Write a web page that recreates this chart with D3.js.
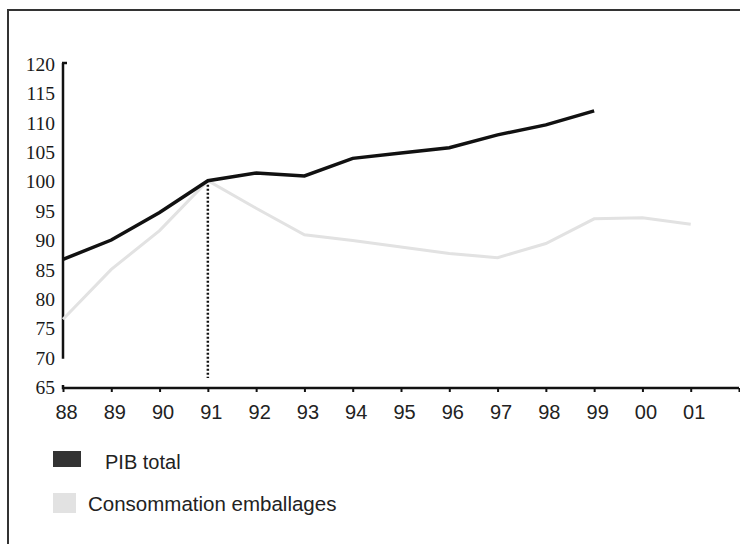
<!DOCTYPE html>
<html>
<head>
<meta charset="utf-8">
<script src="https://cdn.jsdelivr.net/npm/d3@7"></script>
<style>
  body { margin: 0; background: #fff; }
  svg { display: block; }
</style>
</head>
<body>
<div id="chart"></div>
<script>
// Data
const years = ["88", "89", "90", "91", "92", "93", "94", "95", "96", "97", "98", "99", "00", "01"];
const pibTotal = [86.9, 90.2, 94.9, 100.3, 101.6, 101.1, 104.1, 105.0, 105.9, 108.1, 109.8, 112.2];
const consoEmballages = [76.7, 85.2, 91.8, 100.3, 95.6, 91.1, 90.1, 89.0, 87.9, 87.2, 89.6, 93.8, 94.0, 92.9];
const yTicks = [65, 70, 75, 80, 85, 90, 95, 100, 105, 110, 115, 120];
const refYear = 3; // index of "91"

const svg = d3.select("#chart")
  .append("svg")
  .attr("width", 740)
  .attr("height", 544);

// frame (only the left and top edges are in the picture)
svg.append("rect")
  .attr("x", 8)
  .attr("y", 10)
  .attr("width", 800)
  .attr("height", 600)
  .attr("fill", "none")
  .attr("stroke", "#333")
  .attr("stroke-width", 2);

// scales
const xScale = d3.scaleLinear().domain([0, 14]).range([63, 739]);
const yScale = d3.scaleLinear().domain([65, 120]).range([388, 65]);

// y axis: the line stops at 70, the x axis sits at 65
svg.append("line")
  .attr("x1", xScale(0))
  .attr("x2", xScale(0))
  .attr("y1", yScale(120) - 2)
  .attr("y2", yScale(70))
  .attr("stroke", "#111")
  .attr("stroke-width", 2.5);
svg.append("line")
  .attr("x1", xScale(0) - 1)
  .attr("x2", xScale(0) + 4)
  .attr("y1", yScale(120) - 2)
  .attr("y2", yScale(120) - 2)
  .attr("stroke", "#111")
  .attr("stroke-width", 2.5);

svg.selectAll(".y-label")
  .data(yTicks)
  .enter()
  .append("text")
  .attr("class", "y-label")
  .attr("x", 55)
  .attr("y", function (d) { return yScale(d) + 6; })
  .attr("text-anchor", "end")
  .attr("font-family", "'Liberation Serif', 'Times New Roman', serif")
  .attr("font-size", 19.5)
  .attr("fill", "#1a1a1a")
  .text(function (d) { return d; });

// x axis
const xAxis = d3.axisBottom(xScale)
  .tickValues(d3.range(0, 15))
  .tickSize(4)
  .tickFormat(function (d) { return years[d] || ""; });

const gx = svg.append("g")
  .attr("class", "x-axis")
  .attr("transform", "translate(0," + yScale(65) + ")")
  .call(xAxis);
gx.select(".domain")
  .attr("d", "M" + xScale(0) + ",-3V0H" + xScale(14))
  .attr("stroke", "#111")
  .attr("stroke-width", 2.5);
gx.selectAll(".tick line").attr("stroke", "#111").attr("stroke-width", 2);
gx.selectAll(".tick text")
  .attr("dy", 0)
  .attr("y", 31)
  .attr("dx", 3)
  .attr("font-family", "'Liberation Sans', Arial, sans-serif")
  .attr("font-size", 20)
  .attr("fill", "#222");

// dotted reference line at 91
svg.append("line")
  .attr("x1", xScale(refYear))
  .attr("x2", xScale(refYear))
  .attr("y1", yScale(100.3))
  .attr("y2", yScale(66.7))
  .attr("stroke", "#111")
  .attr("stroke-width", 2.5)
  .attr("stroke-dasharray", "2,2");

// lines
const line = d3.line()
  .x(function (d, i) { return xScale(i); })
  .y(function (d) { return yScale(d); });

svg.append("path")
  .datum(consoEmballages)
  .attr("fill", "none")
  .attr("stroke", "#e2e2e2")
  .attr("stroke-width", 3)
  .attr("d", line);

svg.append("path")
  .datum(pibTotal)
  .attr("fill", "none")
  .attr("stroke", "#111")
  .attr("stroke-width", 3.5)
  .attr("d", line);

// legend
svg.append("rect")
  .attr("x", 53)
  .attr("y", 451)
  .attr("width", 28)
  .attr("height", 16)
  .attr("fill", "#333");
svg.append("text")
  .attr("x", 105)
  .attr("y", 469)
  .attr("font-family", "'Liberation Sans', Arial, sans-serif")
  .attr("font-size", 20)
  .attr("fill", "#222")
  .text("PIB total");

svg.append("rect")
  .attr("x", 53)
  .attr("y", 493)
  .attr("width", 23)
  .attr("height", 20)
  .attr("fill", "#e2e2e2");
svg.append("text")
  .attr("x", 88)
  .attr("y", 511)
  .attr("font-family", "'Liberation Sans', Arial, sans-serif")
  .attr("font-size", 20.5)
  .attr("fill", "#222")
  .text("Consommation emballages");
</script>
</body>
</html>
